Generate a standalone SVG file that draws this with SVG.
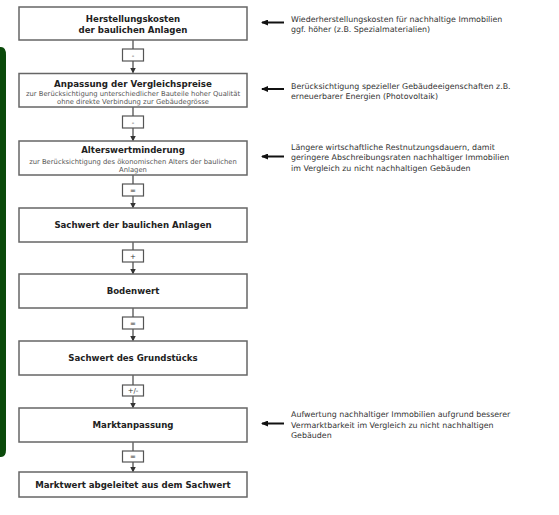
<svg xmlns="http://www.w3.org/2000/svg" width="559" height="515" viewBox="0 0 559 515">
<style>
.box{fill:#fff;stroke:#666;stroke-width:1.5}
.op{fill:#fff;stroke:#555;stroke-width:1.2}
.t{font-family:"DejaVu Sans",Verdana,sans-serif;font-weight:bold;font-size:8.6px;fill:#222;text-anchor:middle}
.t2{font-family:"DejaVu Sans",Verdana,sans-serif;font-weight:bold;font-size:8.7px;fill:#222;text-anchor:middle}
.s{font-family:"DejaVu Sans",Verdana,sans-serif;font-size:6.8px;fill:#555;text-anchor:middle}
.o{font-family:"DejaVu Sans",Verdana,sans-serif;font-size:7px;fill:#333;text-anchor:middle}
.r{font-family:"DejaVu Sans",Verdana,sans-serif;font-size:7.9px;fill:#333}
.c{stroke:#444;stroke-width:1.2;fill:none}
.a{stroke:#111;stroke-width:2;fill:none}
</style>
<defs>
<marker id="ah" markerWidth="6" markerHeight="6" refX="5" refY="3" orient="auto" markerUnits="userSpaceOnUse">
<path d="M0,0 L6,3 L0,6 Z" fill="#333"/>
</marker>
<marker id="al" markerWidth="7" markerHeight="6" refX="6" refY="3" orient="auto" markerUnits="userSpaceOnUse">
<path d="M0,0 L7,3 L0,6 Z" fill="#111"/>
</marker>
</defs>
<path d="M0,47 L1,47 Q6,47 6,55 L6,450 Q6,457 1,457 L0,457 Z" fill="#0b4a0b"/>
<g id="connectors">
<line class="c" x1="133" y1="40" x2="133" y2="72.5" marker-end="url(#ah)"/>
<line class="c" x1="133" y1="107" x2="133" y2="140.5" marker-end="url(#ah)"/>
<line class="c" x1="133" y1="175" x2="133" y2="207.5" marker-end="url(#ah)"/>
<line class="c" x1="133" y1="242" x2="133" y2="273.5" marker-end="url(#ah)"/>
<line class="c" x1="133" y1="308" x2="133" y2="340.5" marker-end="url(#ah)"/>
<line class="c" x1="133" y1="375" x2="133" y2="407.5" marker-end="url(#ah)"/>
<line class="c" x1="133" y1="442" x2="133" y2="471.5" marker-end="url(#ah)"/>
<rect class="op" x="122.5" y="49" width="21" height="12"/><text class="o" x="133" y="57.5">-</text>
<rect class="op" x="122.5" y="116" width="21" height="12"/><text class="o" x="133" y="124.5">-</text>
<rect class="op" x="122.5" y="184" width="21" height="12"/><text class="o" x="133" y="192.5">=</text>
<rect class="op" x="122.5" y="250" width="21" height="12"/><text class="o" x="133" y="258.5">+</text>
<rect class="op" x="122.5" y="317" width="21" height="12"/><text class="o" x="133" y="325.5">=</text>
<rect class="op" x="122.5" y="385" width="21" height="11"/><text class="o" x="133" y="393">+/-</text>
<rect class="op" x="122.5" y="451" width="21" height="11"/><text class="o" x="133" y="459">=</text>
<line class="a" x1="284" y1="22.5" x2="262" y2="22.5" marker-end="url(#al)"/>
<line class="a" x1="284" y1="89" x2="262" y2="89" marker-end="url(#al)"/>
<line class="a" x1="284" y1="156.5" x2="262" y2="156.5" marker-end="url(#al)"/>
<line class="a" x1="284" y1="423.5" x2="262" y2="423.5" marker-end="url(#al)"/>
</g>
<g id="n1">
<rect class="box" x="19" y="7" width="228" height="33"/>
<text class="t" x="133" y="21.5">Herstellungskosten</text>
<text class="t" x="133" y="32.5">der baulichen Anlagen</text>
</g>
<g id="n2">
<rect class="box" x="19" y="73.5" width="228" height="33.5"/>
<text class="t2" x="133" y="86.5">Anpassung der Vergleichspreise</text>
<text class="s" x="133" y="95.5">zur Berücksichtigung unterschiedlicher Bauteile hoher Qualität</text>
<text class="s" x="133" y="104">ohne direkte Verbindung zur Gebäudegrösse</text>
</g>
<g id="n3">
<rect class="box" x="19" y="141" width="228" height="34"/>
<text class="t" x="133" y="152.5">Alterswertminderung</text>
<text class="s" x="133" y="163.5">zur Berücksichtigung des ökonomischen Alters der baulichen</text>
<text class="s" x="133" y="172">Anlagen</text>
</g>
<g id="n4">
<rect class="box" x="19" y="208" width="228" height="34"/>
<text class="t" x="133" y="228">Sachwert der baulichen Anlagen</text>
</g>
<g id="n5">
<rect class="box" x="19" y="274" width="228" height="34"/>
<text class="t" x="133" y="294">Bodenwert</text>
</g>
<g id="n6">
<rect class="box" x="19" y="341" width="228" height="34"/>
<text class="t" x="133" y="361">Sachwert des Grundstücks</text>
</g>
<g id="n7">
<rect class="box" x="19" y="408" width="228" height="34"/>
<text class="t" x="133" y="428">Marktanpassung</text>
</g>
<g id="n8">
<rect class="box" x="19" y="472" width="228" height="25"/>
<text class="t" x="133" y="487.5">Marktwert abgeleitet aus dem Sachwert</text>
</g>
<g id="notes">
<text class="r" x="291" y="22">Wiederherstellungskosten für nachhaltige Immobilien</text>
<text class="r" x="291" y="32">ggf. höher (z.B. Spezialmaterialien)</text>
<text class="r" x="291" y="89">Berücksichtigung spezieller Gebäudeeigenschaften z.B.</text>
<text class="r" x="291" y="99">erneuerbarer Energien (Photovoltaik)</text>
<text class="r" x="291" y="149.5">Längere wirtschaftliche Restnutzungsdauern, damit</text>
<text class="r" x="291" y="160">geringere Abschreibungsraten nachhaltiger Immobilien</text>
<text class="r" x="291" y="170.5">im Vergleich zu nicht nachhaltigen Gebäuden</text>
<text class="r" x="291" y="417">Aufwertung nachhaltiger Immobilien aufgrund besserer</text>
<text class="r" x="291" y="427.5">Vermarktbarkeit im Vergleich zu nicht nachhaltigen</text>
<text class="r" x="291" y="438">Gebäuden</text>
</g>
</svg>
